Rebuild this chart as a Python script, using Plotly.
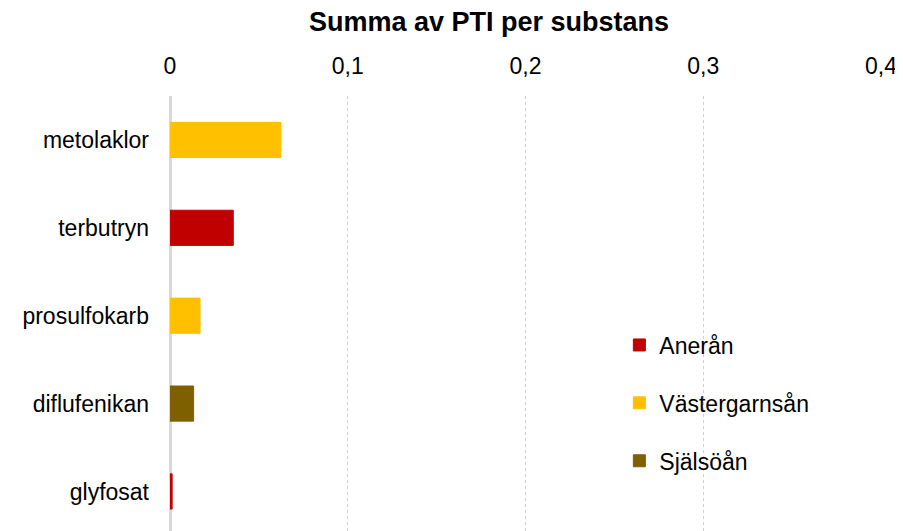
import plotly.graph_objects as go

categories = ["metolaklor", "terbutryn", "prosulfokarb", "diflufenikan", "glyfosat"]
series_names = ["Anerån", "Västergarnsån", "Själsöån"]
aneran = [None, 0.0356, None, None, 0.0012]
vastergarnsan = [0.0624, None, 0.0169, None, None]
sjalsoan = [None, None, None, 0.0133, None]
tick_vals = [0, 0.1, 0.2, 0.3, 0.4]
tick_labels = ["0", "0,1", "0,2", "0,3", "0,4"]
colors = ["#C00000", "#FFC000", "#7F6000"]

FONT = "Liberation Sans, Arial, sans-serif"

fig = go.Figure()
for name, vals, col in zip(series_names, [aneran, vastergarnsan, sjalsoan], colors):
    fig.add_trace(go.Bar(
        y=categories, x=vals, name=name, orientation="h",
        marker=dict(color=col, line=dict(color=col, width=1)),
        width=0.4, legendgroup=name,
    ))

# page body has an 8px default margin: compensate
fig.update_layout(
    width=895, height=523,
    margin=dict(l=162, r=22, t=88, b=0, autoexpand=False),
    paper_bgcolor="white", plot_bgcolor="white",
    barmode="overlay",
    font=dict(family=FONT, size=23, color="#000000"),
    showlegend=True,
    legend=dict(x=0.632, y=0.477, xanchor="left", yanchor="top",
                font=dict(size=23), traceorder="grouped", tracegroupgap=25,
                bgcolor="rgba(0,0,0,0)", itemwidth=30),
    annotations=[dict(text="<b>Summa av PTI per substans</b>", x=0.449, y=1,
                      xref="paper", yref="paper", yshift=74, xanchor="center",
                      yanchor="middle", showarrow=False, font=dict(size=27))],
)
fig.update_xaxes(
    side="top", range=[0, 0.4], tickvals=tick_vals, ticktext=tick_labels,
    showgrid=True, gridcolor="#cfcfcf", griddash="dot", gridwidth=1,
    zeroline=True, zerolinecolor="#d9d9d9", zerolinewidth=3,
    showline=False, ticks="", ticklabelstandoff=16, automargin=False,
    tickfont=dict(size=23),
)
fig.update_yaxes(
    categoryorder="array", categoryarray=categories,
    range=[4.45, -0.5], showgrid=False, zeroline=False, showline=False,
    ticks="", ticklabelstandoff=20, automargin=False, tickfont=dict(size=23),
)
fig.write_html("out.html")
